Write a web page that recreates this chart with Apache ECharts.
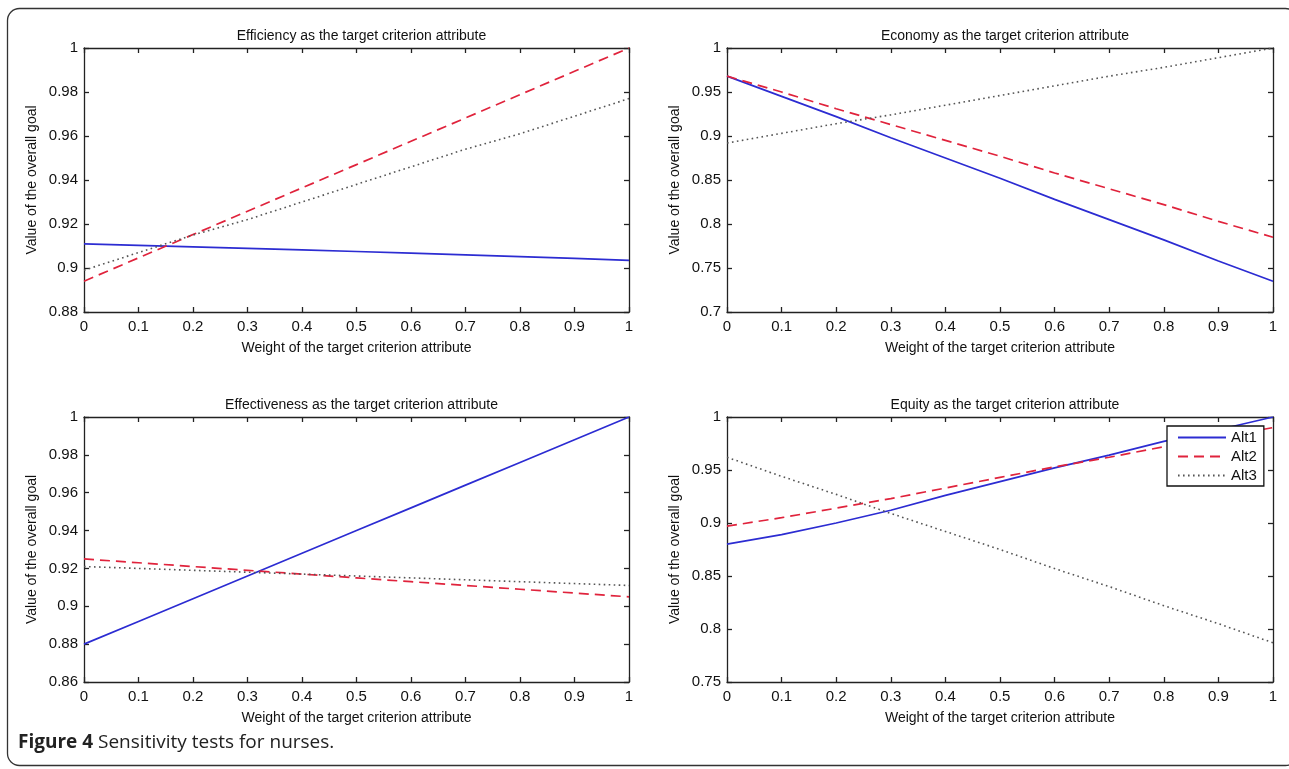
<!DOCTYPE html>
<html>
<head>
<meta charset="utf-8">
<title>Sensitivity tests for nurses</title>
<script src="https://cdn.jsdelivr.net/npm/echarts@6/dist/echarts.min.js"></script>
<style>
  html, body { margin: 0; padding: 0; background: #fff; }
  #main { width: 1289px; height: 769px; }
</style>
</head>
<body>
<div id="main"></div>
<script>
// weight of the target criterion attribute (x)
var weights = [0, 0.1, 0.2, 0.3, 0.4, 0.5, 0.6, 0.7, 0.8, 0.9, 1];

// Efficiency panel
var efficiencyAlt1 = [0.911, 0.9103, 0.9096, 0.9089, 0.9082, 0.9075, 0.9068, 0.9060, 0.9052, 0.9044, 0.9035];
var efficiencyAlt2 = [0.894, 0.9046, 0.9152, 0.9258, 0.9364, 0.947, 0.9576, 0.9682, 0.9788, 0.9894, 1.0];
var efficiencyAlt3 = [0.899, 0.907, 0.915, 0.922, 0.930, 0.938, 0.946, 0.954, 0.961, 0.969, 0.977];

// Economy panel
var economyAlt1 = [0.968, 0.945, 0.922, 0.898, 0.875, 0.852, 0.828, 0.805, 0.782, 0.758, 0.735];
var economyAlt2 = [0.968, 0.950, 0.931, 0.913, 0.895, 0.877, 0.858, 0.840, 0.822, 0.803, 0.785];
var economyAlt3 = [0.892, 0.903, 0.914, 0.924, 0.935, 0.946, 0.957, 0.968, 0.978, 0.989, 1.0];

// Effectiveness panel
var effectivenessAlt1 = [0.88, 0.892, 0.904, 0.916, 0.928, 0.94, 0.952, 0.964, 0.976, 0.988, 1.0];
var effectivenessAlt2 = [0.925, 0.923, 0.921, 0.919, 0.917, 0.915, 0.913, 0.911, 0.909, 0.907, 0.905];
var effectivenessAlt3 = [0.921, 0.920, 0.919, 0.918, 0.917, 0.916, 0.915, 0.914, 0.913, 0.912, 0.911];

// Equity panel
var equityAlt1 = [0.88, 0.889, 0.900, 0.912, 0.926, 0.939, 0.952, 0.964, 0.977, 0.988, 1.0];
var equityAlt2 = [0.897, 0.905, 0.914, 0.923, 0.933, 0.943, 0.953, 0.962, 0.972, 0.981, 0.99];
var equityAlt3 = [0.962, 0.944, 0.927, 0.909, 0.892, 0.875, 0.857, 0.840, 0.822, 0.805, 0.787];

var panelTitles = [
  'Efficiency as the target criterion attribute',
  'Economy as the target criterion attribute',
  'Effectiveness as the target criterion attribute',
  'Equity as the target criterion attribute'
];
var yMins = [0.88, 0.7, 0.86, 0.75];
var yIntervals = [0.02, 0.05, 0.02, 0.05];
var altNames = ['Alt1', 'Alt2', 'Alt3'];

var panelData = [
  [efficiencyAlt1, efficiencyAlt2, efficiencyAlt3],
  [economyAlt1, economyAlt2, economyAlt3],
  [effectivenessAlt1, effectivenessAlt2, effectivenessAlt3],
  [equityAlt1, equityAlt2, equityAlt3]
];

var font = "'Liberation Sans', Arial, Helvetica, sans-serif";
var axisColor = '#222';
var lineStyles = [
  { color: '#2c2cd2', width: 1.7, type: 'solid' },
  { color: '#e0233c', width: 1.7, type: [10, 6] },
  { color: '#555555', width: 1.6, type: [1.6, 3.4] }
];

var grids = [
  { left: 84, top: 48, width: 545, height: 264 },
  { left: 727, top: 48, width: 546, height: 264 },
  { left: 84, top: 417, width: 545, height: 265 },
  { left: 727, top: 417, width: 546, height: 265 }
];

var xAxes = [], yAxes = [], series = [], titles = [];

grids.forEach(function (g, i) {
  var lineCfg = { show: true, onZero: false, lineStyle: { color: axisColor, width: 1.3 } };
  var tickCfg = { show: true, inside: true, length: 5, lineStyle: { color: axisColor, width: 1.3 } };
  // bottom axis with labels
  xAxes.push({
    type: 'value', gridIndex: i, min: 0, max: 1, interval: 0.1, position: 'bottom',
    axisLine: lineCfg, axisTick: tickCfg, splitLine: { show: false },
    axisLabel: { color: '#111', fontSize: 15, fontFamily: font, margin: 7 },
    name: 'Weight of the target criterion attribute', nameLocation: 'middle', nameGap: 29,
    nameTextStyle: { color: '#111', fontSize: 14, fontFamily: font }
  });
  // top axis, ticks only (box)
  xAxes.push({
    type: 'value', gridIndex: i, min: 0, max: 1, interval: 0.1, position: 'top',
    axisLine: lineCfg, axisTick: tickCfg, splitLine: { show: false }, axisLabel: { show: false }
  });
  yAxes.push({
    type: 'value', gridIndex: i, min: yMins[i], max: 1, interval: yIntervals[i], position: 'left',
    axisLine: lineCfg, axisTick: tickCfg, splitLine: { show: false },
    axisLabel: { color: '#111', fontSize: 15, fontFamily: font, margin: 6 },
    name: 'Value of the overall goal', nameLocation: 'middle', nameGap: 45,
    nameTextStyle: { color: '#111', fontSize: 14, fontFamily: font }
  });
  // right axis, ticks only (box)
  yAxes.push({
    type: 'value', gridIndex: i, min: yMins[i], max: 1, interval: yIntervals[i], position: 'right',
    axisLine: lineCfg, axisTick: tickCfg, splitLine: { show: false }, axisLabel: { show: false }
  });

  titles.push({
    text: panelTitles[i],
    left: g.left + g.width / 2, textAlign: 'center',
    top: g.top - 24,
    textStyle: { color: '#111', fontSize: 14, fontWeight: 'normal', fontFamily: font }
  });

  panelData[i].forEach(function (vals, k) {
    series.push({
      name: altNames[k],
      type: 'line',
      xAxisIndex: i * 2,
      yAxisIndex: i * 2,
      symbol: 'none',
      silent: true,
      animation: false,
      color: lineStyles[k].color,
      lineStyle: lineStyles[k],
      data: weights.map(function (w, j) { return [w, vals[j]]; })
    });
  });
});

var myChart = echarts.init(document.getElementById('main'), null, { renderer: 'canvas' });
myChart.setOption({
  backgroundColor: '#fff',
  animation: false,
  title: titles,
  grid: grids,
  xAxis: xAxes,
  yAxis: yAxes,
  legend: {
    data: altNames,
    orient: 'vertical',
    left: 1167, top: 426,
    padding: [4, 7, 3, 10],
    itemWidth: 48, itemHeight: 16, itemGap: 4, itemTextGap: 5,
    itemStyle: { opacity: 0, borderWidth: 0 },
    backgroundColor: '#fff',
    borderColor: '#111', borderWidth: 1.3, borderRadius: 0,
    selectedMode: false,
    textStyle: { color: '#111', fontSize: 15, fontFamily: font }
  },
  series: series,
  graphic: [
    {
      type: 'rect', silent: true, z: -1,
      shape: { x: 7.5, y: 8.5, width: 1290, height: 757, r: 12 },
      style: { fill: 'none', stroke: '#333', lineWidth: 1.3 }
    },
    {
      type: 'text', left: 18, top: 733,
      style: {
        text: '{b|Figure 4} Sensitivity tests for nurses.',
        fill: '#222', fontSize: 19, fontFamily: "'Open Sans', 'Noto Sans', sans-serif",
        rich: { b: { fontWeight: 'bold', fontSize: 19, fontFamily: "'Open Sans', 'Noto Sans', sans-serif", fill: '#222' } }
      }
    }
  ]
});
window.addEventListener('resize', function () { myChart.resize(); });
</script>
</body>
</html>
